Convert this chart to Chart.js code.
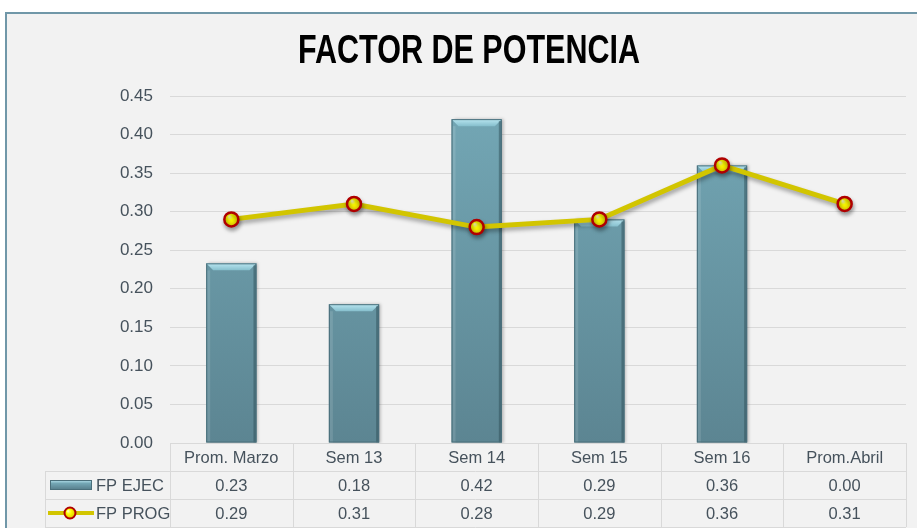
<!DOCTYPE html>
<html><head><meta charset="utf-8">
<script src="https://cdn.jsdelivr.net/npm/chart.js@4/dist/chart.umd.min.js"></script>
<style>
html,body{margin:0;padding:0;background:#fff;width:917px;height:528px;overflow:hidden;}
#box{position:absolute;left:5px;top:12px;width:940px;height:540px;border:2px solid #7097a8;background:#f2f2f2;}
canvas{display:block;}
</style></head><body>
<div id="box"><canvas id="c" width="940" height="540"></canvas></div>
<script>
const TITLE = 'FACTOR DE POTENCIA';
const categories = ['Prom. Marzo', 'Sem 13', 'Sem 14', 'Sem 15', 'Sem 16', 'Prom.Abril'];
const fpEjec = [0.233, 0.18, 0.42, 0.29, 0.36, 0.00];
const fpProg = [0.29, 0.31, 0.28, 0.29, 0.36, 0.31];
const seriesNames = ['FP EJEC', 'FP PROG'];
const yTicks = [0, 0.05, 0.10, 0.15, 0.20, 0.25, 0.30, 0.35, 0.40, 0.45];

const TEXT = '#46525c';
const FONT = '"Liberation Sans", Arial, sans-serif';
Chart.defaults.font.family = FONT;
Chart.defaults.color = TEXT;

function pointFill(c) {
  const chart = c.chart;
  if (!chart.chartArea || !chart.scales.x) return '#ffff00';
  const x = chart.scales.x.getPixelForValue(c.dataIndex);
  const y = chart.scales.y.getPixelForValue(fpProg[c.dataIndex]);
  const g = chart.ctx.createRadialGradient(x - 2, y - 3, 0.5, x, y, 7);
  g.addColorStop(0, '#ffffb0');
  g.addColorStop(0.35, '#ffff00');
  g.addColorStop(1, '#d6c000');
  return g;
}
function barFill(c) {
  const chart = c.chart, ca = chart.chartArea;
  if (!ca) return '#6a9aa8';
  const g = chart.ctx.createLinearGradient(0, ca.top, 0, ca.bottom);
  g.addColorStop(0, '#74a8b6');
  g.addColorStop(1, '#5c8592');
  return g;
}

const effects = {
  id: 'effects',
  beforeDatasetDraw(chart, args) {
    const ctx = chart.ctx;
    ctx.save();
    if (args.index === 1) {
      ctx.shadowColor = 'rgba(0,0,0,0.35)';
      ctx.shadowBlur = 4; ctx.shadowOffsetX = 1; ctx.shadowOffsetY = 3;
    } else {
      ctx.shadowColor = 'rgba(0,0,0,0.25)';
      ctx.shadowBlur = 3; ctx.shadowOffsetX = 2; ctx.shadowOffsetY = 0;
    }
  },
  afterDatasetDraw(chart, args) {
    const ctx = chart.ctx;
    ctx.restore();
    if (args.index !== 0) return;
    const meta = chart.getDatasetMeta(0);
    meta.data.forEach((bar, i) => {
      if (fpEjec[i] <= 0) return;
      const p = bar.getProps(['x', 'y', 'width', 'base'], true);
      const l = p.x - p.width / 2, r = p.x + p.width / 2, t = p.y, b = 7;
      ctx.save();
      const g = ctx.createLinearGradient(0, t, 0, t + b);
      g.addColorStop(0, '#b9e6f1'); g.addColorStop(1, '#86bfcd');
      ctx.fillStyle = g;
      ctx.beginPath();
      ctx.moveTo(l, t); ctx.lineTo(r, t); ctx.lineTo(r - b, t + b); ctx.lineTo(l + b, t + b); ctx.closePath();
      ctx.fill();
      ctx.fillStyle = 'rgba(40,70,80,0.45)';
      ctx.fillRect(r - 3, t + 2, 3, p.base - t - 2);
      ctx.fillStyle = 'rgba(255,255,255,0.12)';
      ctx.fillRect(l + 1, t + b, 3, p.base - t - b);
      ctx.strokeStyle = '#4a6f7b'; ctx.lineWidth = 1;
      ctx.strokeRect(l + 0.5, t + 0.5, p.width - 1, p.base - t - 1);
      ctx.restore();
    });
  },
  afterDraw(chart) {
    const ctx = chart.ctx, ca = chart.chartArea, xs = chart.scales.x;
    // Title
    ctx.save();
    ctx.font = 'bold 40px ' + FONT;
    const w = ctx.measureText(TITLE).width;
    ctx.translate(462, 49);
    ctx.scale(342 / w, 1);
    ctx.fillStyle = '#000';
    ctx.textAlign = 'center';
    ctx.textBaseline = 'alphabetic';
    ctx.fillText(TITLE, 0, 0);
    ctx.restore();

    // Data table
    const cw = xs.getPixelForValue(1) - xs.getPixelForValue(0);
    const top = ca.bottom, rh = 28, legLeft = ca.left - 125;
    ctx.save();
    ctx.strokeStyle = '#d9d9d9'; ctx.lineWidth = 1;
    ctx.beginPath();
    const hl = (x1, x2, y) => { ctx.moveTo(x1, Math.round(y) + 0.5); ctx.lineTo(x2, Math.round(y) + 0.5); };
    const vl = (x, y1, y2) => { ctx.moveTo(Math.round(x) + 0.5, y1); ctx.lineTo(Math.round(x) + 0.5, y2); };
    hl(ca.left, ca.right, top);
    hl(legLeft, ca.right, top + rh);
    hl(legLeft, ca.right, top + 2 * rh);
    hl(legLeft, ca.right, top + 3 * rh);
    for (let i = 0; i <= categories.length; i++) vl(ca.left + i * cw, top, top + 3 * rh);
    vl(legLeft, top + rh, top + 3 * rh);
    ctx.stroke();

    ctx.fillStyle = TEXT;
    ctx.font = '16.5px ' + FONT;
    ctx.textAlign = 'center';
    ctx.textBaseline = 'middle';
    categories.forEach((cat, i) => {
      const x = xs.getPixelForValue(i);
      ctx.fillText(cat, x, top + rh / 2 + 1);
      ctx.fillText(fpEjec[i].toFixed(2), x, top + rh * 1.5 + 1);
      ctx.fillText(fpProg[i].toFixed(2), x, top + rh * 2.5 + 1);
    });
    ctx.textAlign = 'left';
    ctx.fillText(seriesNames[0], legLeft + 51, top + rh * 1.5 + 1);
    ctx.fillText(seriesNames[1], legLeft + 51, top + rh * 2.5 + 1);
    const ky = top + rh * 1.5;
    const g = ctx.createLinearGradient(0, ky - 5, 0, ky + 5);
    g.addColorStop(0, '#b9e6f1'); g.addColorStop(0.35, '#73a6b4'); g.addColorStop(1, '#557c89');
    ctx.fillStyle = g;
    ctx.fillRect(legLeft + 5, ky - 5, 42, 10);
    ctx.strokeStyle = '#4a6f7b';
    ctx.strokeRect(legLeft + 5.5, ky - 4.5, 41, 9);
    const py = top + rh * 2.5;
    ctx.strokeStyle = '#d2c500'; ctx.lineWidth = 4;
    ctx.beginPath(); ctx.moveTo(legLeft + 3, py); ctx.lineTo(legLeft + 49, py); ctx.stroke();
    const rg = ctx.createRadialGradient(legLeft + 23, py - 2, 0.5, legLeft + 25, py, 6);
    rg.addColorStop(0, '#ffffb0'); rg.addColorStop(0.35, '#ffff00'); rg.addColorStop(1, '#d6c000');
    ctx.fillStyle = rg; ctx.strokeStyle = '#b00000'; ctx.lineWidth = 2;
    ctx.beginPath(); ctx.arc(legLeft + 25, py, 5.5, 0, Math.PI * 2); ctx.fill(); ctx.stroke();
    ctx.restore();
  }
};

new Chart(document.getElementById('c'), {
  type: 'bar',
  data: {
    labels: categories,
    datasets: [
      {
        type: 'bar', label: seriesNames[0], data: fpEjec, order: 1,
        backgroundColor: barFill, borderWidth: 0,
        barPercentage: 0.41, categoryPercentage: 1
      },
      {
        type: 'line', label: seriesNames[1], data: fpProg, order: 0,
        borderColor: '#d2c500', borderWidth: 5, tension: 0,
        pointRadius: 7, pointHoverRadius: 7,
        pointBackgroundColor: pointFill, pointBorderColor: '#b00000', pointBorderWidth: 2.5
      }
    ]
  },
  options: {
    responsive: false, animation: false,
    layout: { padding: { top: 82, right: 41, bottom: 111, left: 0 } },
    plugins: { legend: { display: false }, title: { display: false }, tooltip: { enabled: false } },
    scales: {
      x: { display: false, offset: true },
      y: {
        min: 0, max: 0.45,
        afterBuildTicks: s => { s.ticks = yTicks.map(v => ({ value: v })); },
        afterFit: s => { s.width = 163; },
        grid: { color: '#d9d9d9', drawTicks: false },
        border: { display: false },
        ticks: { padding: 17, color: TEXT, font: { size: 17 }, callback: v => Number(v).toFixed(2) }
      }
    }
  },
  plugins: [effects]
});
</script>
</body></html>
